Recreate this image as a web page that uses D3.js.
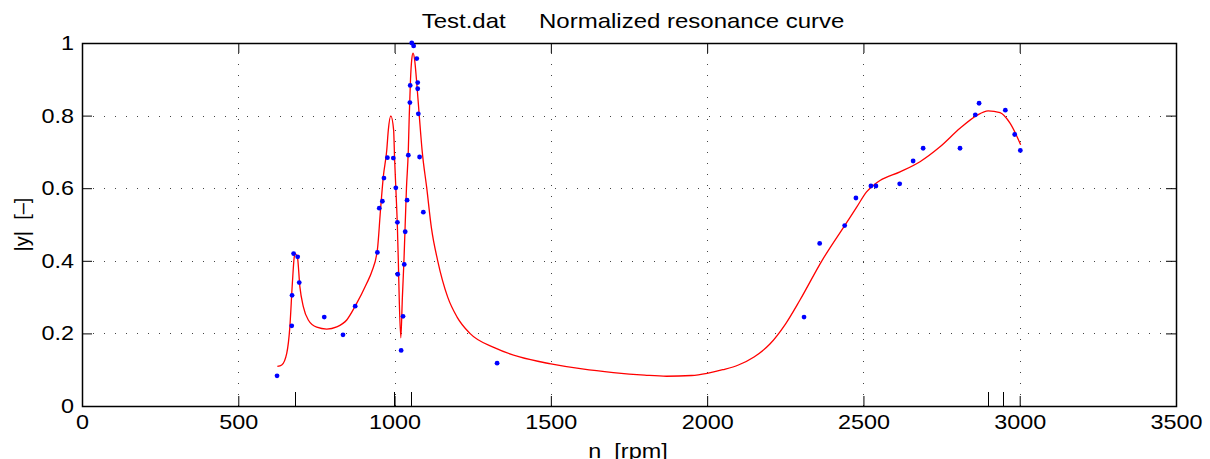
<!DOCTYPE html>
<html>
<head>
<meta charset="utf-8">
<script src="https://cdn.jsdelivr.net/npm/d3@7"></script>
<style>
  body { margin: 0; background: #fff; }
  svg { display: block; font-family: "Liberation Sans", Arial, Helvetica, sans-serif; }
</style>
</head>
<body>
<svg id="chart" width="1210" height="459"></svg>
<script>
// measured points: speed [rpm] and normalized amplitude
const measRpm = [624, 671, 672, 677, 690, 695, 775, 835, 874, 945, 951, 961, 966, 977, 996, 1004,
  1009, 1010, 1021, 1027, 1031, 1034, 1040, 1044, 1049, 1050, 1055, 1061, 1071, 1074, 1074, 1076,
  1080, 1092, 1328, 2310, 2360, 2440, 2476, 2524, 2540, 2616, 2659, 2691, 2809, 2858, 2870, 2954,
  2984, 3002];
const measAmp = [0.083, 0.221, 0.305, 0.420, 0.411, 0.340, 0.245, 0.196, 0.275, 0.423, 0.545, 0.564,
  0.628, 0.684, 0.683, 0.601, 0.506, 0.363, 0.153, 0.247, 0.390, 0.480, 0.567, 0.691, 0.836, 0.883,
  1.000, 0.992, 0.957, 0.891, 0.874, 0.805, 0.686, 0.534, 0.118, 0.245, 0.448, 0.497, 0.573, 0.606,
  0.606, 0.612, 0.675, 0.710, 0.710, 0.802, 0.834, 0.815, 0.748, 0.704];

// fitted curve
const fitRpm = [625, 639, 655, 665, 673, 679, 682, 689, 697, 708, 724, 751, 783, 815, 847, 874, 911,
  927, 945, 955, 964, 975, 980, 988, 997, 1000, 1004, 1009, 1012, 1015, 1020, 1025, 1030, 1038,
  1044, 1047, 1051, 1055, 1059, 1064, 1070, 1079, 1088, 1103, 1118, 1138, 1170, 1200, 1241, 1321,
  1400, 1500, 1600, 1700, 1800, 1870, 1950, 2000, 2050, 2100, 2150, 2200, 2250, 2297, 2367, 2440,
  2480, 2510, 2535, 2553, 2617, 2681, 2745, 2809, 2862, 2899, 2937, 2969, 3003];
const fitAmp = [0.109, 0.113, 0.145, 0.218, 0.338, 0.410, 0.419, 0.411, 0.329, 0.274, 0.237, 0.217,
  0.212, 0.218, 0.237, 0.275, 0.338, 0.370, 0.430, 0.540, 0.632, 0.705, 0.760, 0.799, 0.760, 0.683,
  0.601, 0.494, 0.400, 0.292, 0.188, 0.300, 0.400, 0.600, 0.705, 0.800, 0.900, 0.955, 0.972, 0.955,
  0.900, 0.800, 0.705, 0.600, 0.490, 0.400, 0.300, 0.245, 0.200, 0.160, 0.135, 0.116, 0.102, 0.092,
  0.085, 0.082, 0.084, 0.090, 0.100, 0.113, 0.135, 0.170, 0.225, 0.292, 0.400, 0.497, 0.550, 0.590,
  0.610, 0.621, 0.645, 0.673, 0.714, 0.765, 0.800, 0.813, 0.808, 0.779, 0.720];

// resonance marks on the speed axis
const markRpm = [680, 997, 1053, 2897, 2945];

const xTicks = [0, 500, 1000, 1500, 2000, 2500, 3000, 3500];
const yTicks = [0, 0.2, 0.4, 0.6, 0.8, 1];
const titleText = "Test.dat     Normalized resonance curve";
const xLabel = "n  [rpm]";
const yLabel = "|y|  [\u2013]";

const svg = d3.select("#chart");
const plotL = 82, plotR = 1176, plotT = 43, plotB = 406;
const stretch = 1.17; // the original lettering is a bit wider than Liberation Sans

const x = d3.scaleLinear().domain([0, 3500]).range([plotL, plotR]);
const y = d3.scaleLinear().domain([0, 1]).range([plotB, plotT]);

// dotted grid
const grid = svg.append("g")
  .attr("stroke", "#444")
  .attr("stroke-width", 1)
  .attr("stroke-dasharray", "1,10");
grid.selectAll("line.gx")
  .data(xTicks.filter(d => d > 0 && d < 3500))
  .join("line")
  .attr("class", "gx")
  .attr("x1", d => Math.round(x(d)) + 0.5).attr("x2", d => Math.round(x(d)) + 0.5)
  .attr("y1", plotB).attr("y2", plotT);
grid.selectAll("line.gy")
  .data(yTicks.filter(d => d > 0 && d < 1))
  .join("line")
  .attr("class", "gy")
  .attr("y1", d => Math.round(y(d)) + 0.5).attr("y2", d => Math.round(y(d)) + 0.5)
  .attr("x1", plotL).attr("x2", plotR);

// axes with inward ticks, on all four sides
const tickLen = 10;
const fmt = d => d === 0 ? "0" : (d === 1 ? "1" : d3.format(".1f")(d));

const xAxis = svg.append("g")
  .attr("transform", `translate(0,${plotB})`)
  .call(d3.axisBottom(x).tickValues(xTicks).tickSizeInner(-tickLen).tickSizeOuter(0).tickPadding(16).tickFormat(d3.format("d")));
const xAxisTop = svg.append("g")
  .attr("transform", `translate(0,${plotT})`)
  .call(d3.axisTop(x).tickValues(xTicks).tickSizeInner(-tickLen).tickSizeOuter(0).tickFormat(""));
const yAxis = svg.append("g")
  .attr("transform", `translate(${plotL},0)`)
  .call(d3.axisLeft(y).tickValues(yTicks).tickSizeInner(-tickLen).tickSizeOuter(0).tickPadding(8).tickFormat(fmt));
const yAxisRight = svg.append("g")
  .attr("transform", `translate(${plotR},0)`)
  .call(d3.axisRight(y).tickValues(yTicks).tickSizeInner(-tickLen).tickSizeOuter(0).tickFormat(""));

[xAxis, xAxisTop, yAxis, yAxisRight].forEach(g => {
  g.select(".domain").remove();
  g.selectAll(".tick line").attr("stroke", "#000");
  g.selectAll(".tick text").attr("fill", "#000").style("font-size", "20px")
    .attr("transform", `scale(${stretch},1)`);
});
xAxis.selectAll(".tick text").attr("dy", "0.35em");
yAxis.selectAll(".tick text").attr("x", -8 / stretch);

// resonance marks
svg.append("g").selectAll("line")
  .data(markRpm)
  .join("line")
  .attr("x1", d => Math.round(x(d)) + 0.5).attr("x2", d => Math.round(x(d)) + 0.5)
  .attr("y1", plotB).attr("y2", plotB - 14)
  .attr("stroke", "#000").attr("stroke-width", 1);

// box
svg.append("rect")
  .attr("x", plotL + 0.5).attr("y", plotT + 0.5)
  .attr("width", plotR - plotL).attr("height", plotB - plotT)
  .attr("fill", "none").attr("stroke", "#000").attr("stroke-width", 1.5);

// fitted curve
const fit = fitRpm.map((n, i) => [n, fitAmp[i]]);
svg.append("path")
  .datum(fit)
  .attr("fill", "none")
  .attr("stroke", "#ff0000")
  .attr("stroke-width", 1.3)
  .attr("d", d3.line().x(d => x(d[0])).y(d => y(d[1])).curve(d3.curveMonotoneX));

// measured points
svg.append("g").selectAll("circle")
  .data(measRpm.map((n, i) => [n, measAmp[i]]))
  .join("circle")
  .attr("cx", d => x(d[0]))
  .attr("cy", d => y(d[1]))
  .attr("r", 2.4)
  .attr("fill", "#0000ff");

// labels
svg.append("text")
  .attr("transform", `translate(633,28) scale(1.2,1)`)
  .attr("text-anchor", "middle")
  .style("font-size", "20px")
  .style("white-space", "pre")
  .attr("xml:space", "preserve")
  .text(titleText);

svg.append("text")
  .attr("transform", `translate(628,458) scale(${stretch},1)`)
  .attr("text-anchor", "middle")
  .style("font-size", "20px")
  .style("white-space", "pre")
  .attr("xml:space", "preserve")
  .text(xLabel);

svg.append("text")
  .attr("transform", `translate(29,${(plotT + plotB) / 2}) rotate(-90)`)
  .attr("text-anchor", "middle")
  .style("font-size", "20px")
  .style("white-space", "pre")
  .attr("xml:space", "preserve")
  .text(yLabel);
</script>
</body>
</html>
